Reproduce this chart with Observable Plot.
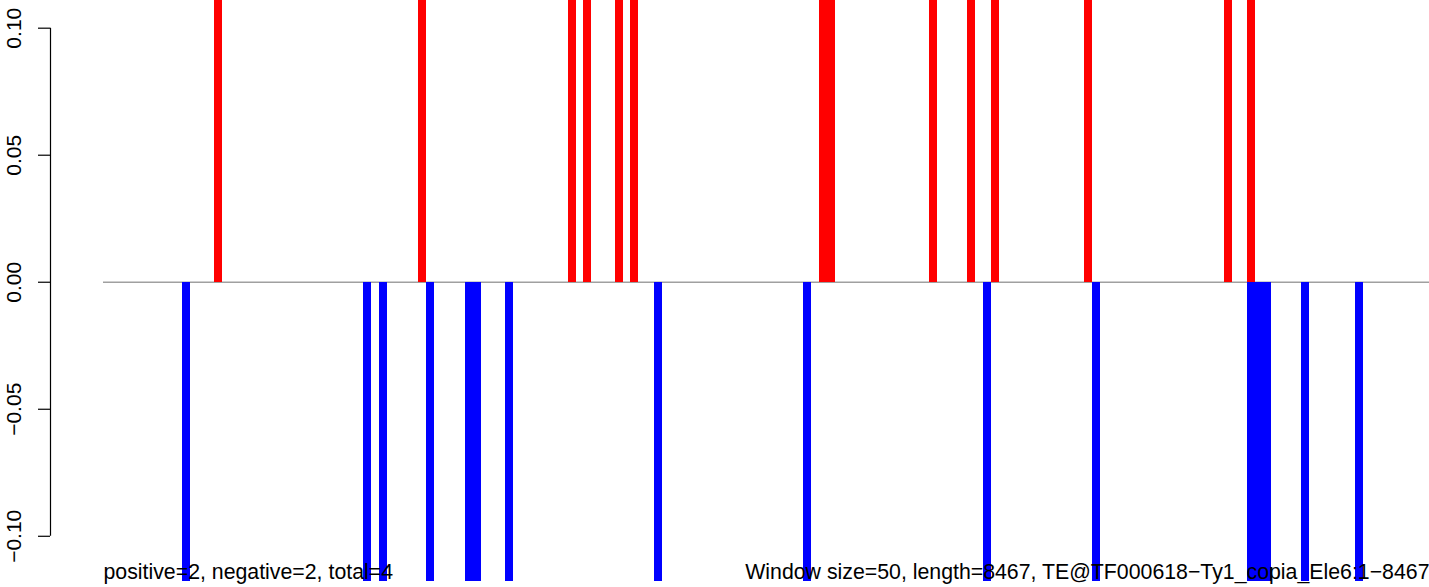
<!DOCTYPE html>
<html><head><meta charset="utf-8">
<script src="https://cdn.jsdelivr.net/npm/d3@7"></script>
<script src="https://cdn.jsdelivr.net/npm/@observablehq/plot@0.6"></script>
<style>html,body{margin:0;padding:0;background:#fff}</style>
</head><body><div id="chart"></div>
<script>
const windowSize = 50;
const teLength = 8467;
// window centres (bp) and values of the positive (red) series
const positivePos = [734, 2037, 2995, 3090, 3295, 3391, 4597, 4649, 5298, 5544, 5696, 6288, 7183, 7328];
const positiveVal = [1, 1, 1, 1, 1, 1, 1, 1, 1, 1, 1, 1, 1, 1];
// window centres (bp) and values of the negative (blue) series
const negativePos = [530, 1686, 1788, 2088, 2337, 2388, 2592, 3544, 4495, 5645, 6339, 7328, 7379, 7430, 7675, 8022];
const negativeVal = [-1, -1, -1, -1, -1, -1, -1, -1, -1, -1, -1, -1, -1, -1, -1, -1];
const yTicks = [-0.10, -0.05, 0, 0.05, 0.10];
const yDomain = [-0.1178, 0.1109];
const leftNote = "positive=2, negative=2, total=4";
const rightNote = "Window size=50, length=8467, TE@TF000618\u2212Ty1_copia_Ele6:1\u22128467";

const pos = positivePos.map((p, i) => ({pos: p, value: positiveVal[i]}));
const neg = negativePos.map((p, i) => ({pos: p, value: negativeVal[i]}));

const font = "'Liberation Sans', Arial, Helvetica, sans-serif";
const chart = Plot.plot({
  width: 1429,
  height: 587,
  marginLeft: 103,
  marginRight: 0,
  marginTop: 0,
  marginBottom: 6,
  style: {fontFamily: font, background: "#fff", color: "#000"},
  x: {domain: [0, teLength], axis: null},
  y: {domain: yDomain},
  marks: [
    Plot.ruleY([0], {stroke: "#a0a0a0", strokeWidth: 1.3}),
    Plot.rectY(pos, {x1: d => d.pos - windowSize / 2, x2: d => d.pos + windowSize / 2, y1: 0, y2: "value", fill: "#ff0000", clip: "frame", shapeRendering: "crispEdges"}),
    Plot.rectY(neg, {x1: d => d.pos - windowSize / 2, x2: d => d.pos + windowSize / 2, y1: 0, y2: "value", fill: "#0000ff", clip: "frame", shapeRendering: "crispEdges"}),
    Plot.ruleX([0], {y1: -0.10, y2: 0.10, dx: -53, stroke: "#000", strokeWidth: 1.2}),
    Plot.axisY({ticks: yTicks, tickFormat: d3.format(".2f"), tickSize: 12, tickPadding: 18, tickRotate: -90, dx: -53, fontSize: 21, label: null, stroke: "#000", fill: "#000", strokeWidth: 1.2}),
    Plot.text([leftNote], {frameAnchor: "bottom-left", textAnchor: "start", lineAnchor: "bottom", dy: -3, fontSize: 21.3, fill: "#000"}),
    Plot.text([rightNote], {frameAnchor: "bottom-right", textAnchor: "end", lineAnchor: "bottom", dy: -3, fontSize: 21.3, fill: "#000"})
  ]
});
document.getElementById("chart").appendChild(chart);
</script>
</body></html>
